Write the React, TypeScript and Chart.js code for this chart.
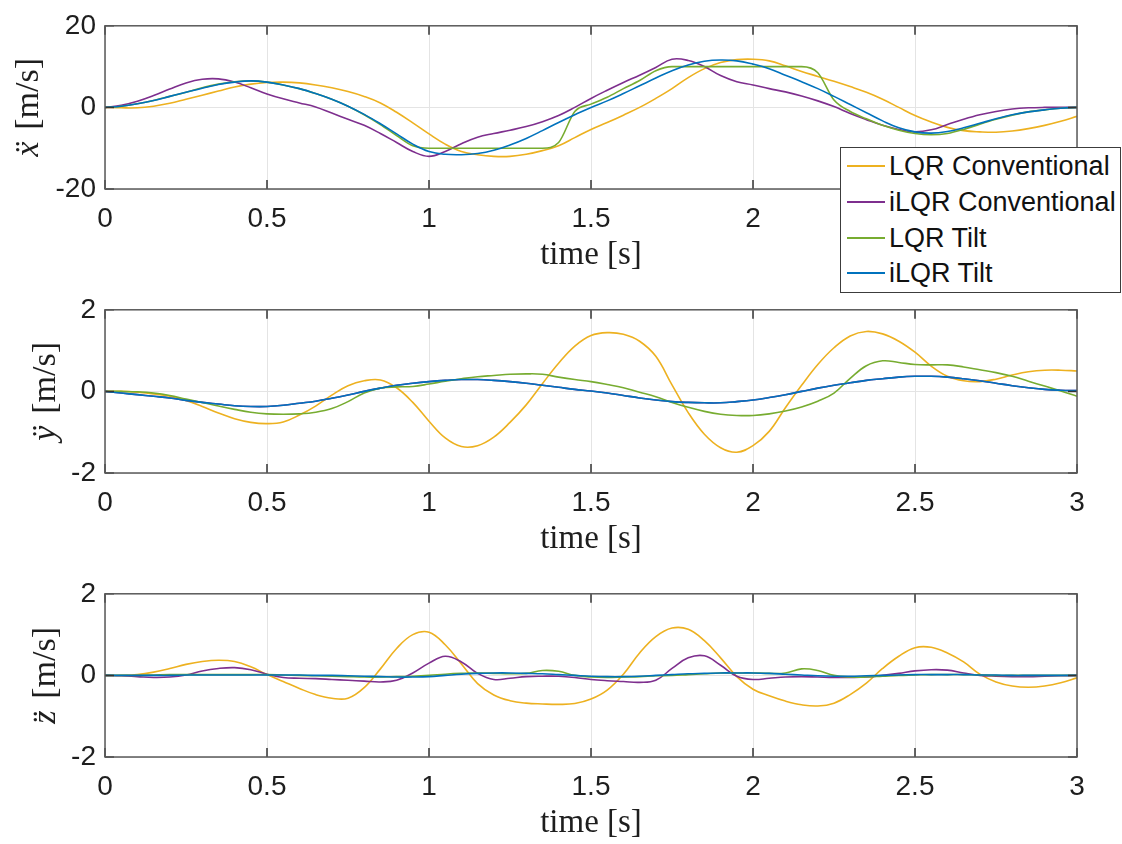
import React, { useEffect, useRef } from "react";
import { Chart, registerables } from "chart.js";

Chart.register(...registerables);

// Sample instants (s)
const time = [
  0, 0.05, 0.1, 0.15, 0.2, 0.25, 0.3, 0.35, 0.4, 0.45, 0.5,
  0.55, 0.6, 0.65, 0.7, 0.75, 0.8, 0.85, 0.9, 0.95, 1.0,
  1.05, 1.1, 1.15, 1.2, 1.25, 1.3, 1.35, 1.4, 1.45, 1.5,
  1.55, 1.6, 1.65, 1.7, 1.75, 1.8, 1.85, 1.9, 1.95, 2.0,
  2.05, 2.1, 2.15, 2.2, 2.25, 2.3, 2.35, 2.4, 2.45, 2.5,
  2.55, 2.6, 2.65, 2.7, 2.75, 2.8, 2.85, 2.9, 2.95, 3.0,
];

const seriesLabels = ["LQR Conventional", "iLQR Conventional", "LQR Tilt", "iLQR Tilt"];
const seriesColors = ["#EDB120", "#7E2F8E", "#77AC30", "#0072BD"];

// Tick labels
const timeTicks = [0, 0.5, 1, 1.5, 2, 2.5, 3];
const accXTicks = [-20, 0, 20];
const accYTicks = [-2, 0, 2];
const accZTicks = [-2, 0, 2];

// x acceleration
const accXLqrConv = [
  0, -0.1, -0.1, 0.3, 1.0, 2.0, 3.0, 4.0, 5.0, 5.7, 6.1,
  6.2, 6.0, 5.5, 4.8, 3.9, 2.7, 1.1, -1.2, -3.8, -6.5,
  -9.0, -10.8, -11.6, -12.0, -12.0, -11.5, -10.6, -9.4, -7.4, -5.4,
  -3.7, -1.9, 0.0, 2.2, 4.6, 7.3, 9.5, 11.0, 11.7, 11.8,
  11.4, 10.2, 8.8, 7.6, 6.4, 5.1, 3.7, 2.0, 0.0, -2.0,
  -3.6, -4.9, -5.7, -6.0, -6.1, -5.8, -5.2, -4.4, -3.4, -2.2,
];
const accXIlqrConv = [
  0, 0.5, 1.5, 2.9, 4.5, 6.0, 6.9, 7.0, 6.2, 4.8, 3.3,
  2.1, 1.1, 0.1, -1.4, -2.9, -4.4, -6.4, -8.6, -10.8, -12.0,
  -10.8, -8.9, -7.3, -6.4, -5.6, -4.7, -3.5, -2.0, 0.0, 2.2,
  4.2, 6.1, 7.9, 9.8, 11.8, 11.5, 10.0, 7.8, 6.3, 5.5,
  4.6, 3.8, 2.8, 1.6, 0.2, -1.5, -3.0, -4.4, -5.4, -6.0,
  -5.5, -4.2, -2.9, -1.8, -1.0, -0.4, -0.1, 0, 0, 0,
];
const accXLqrTilt = [
  0, 0.3, 0.9, 1.7, 2.7, 3.7, 4.8, 5.7, 6.3, 6.5, 6.2,
  5.5, 4.6, 3.4, 2.0, 0.3, -1.8, -4.2, -6.9, -9.4, -10,
  -10, -10, -10, -10, -10, -10, -10, -8.6, -1.0, 0.8,
  2.5, 4.6, 6.6, 9.0, 10, 10, 10, 10, 10, 10,
  10, 10, 10, 8.5, 1.8, -1.0, -2.8, -4.4, -5.6, -6.4,
  -6.7, -6.4, -5.4, -4.1, -2.9, -1.9, -1.1, -0.6, -0.2, 0,
];
const accXIlqrTilt = [
  0, 0.3, 0.9, 1.7, 2.7, 3.7, 4.7, 5.6, 6.2, 6.5, 6.2,
  5.5, 4.6, 3.4, 2.0, 0.3, -1.7, -4.0, -6.5, -9.0, -10.8,
  -11.5, -11.6, -11.3, -10.5, -9.2, -7.6, -5.7, -3.7, -1.8, 0.0,
  1.6, 3.4, 5.3, 7.2, 9.0, 10.4, 11.3, 11.6, 11.4, 10.6,
  9.5, 7.9, 6.3, 4.6, 2.7, 0.7, -1.3, -3.3, -5.0, -6.0,
  -6.3, -5.9, -5.0, -3.9, -2.8, -1.8, -1.1, -0.6, -0.2, 0,
];

// y acceleration
const accYLqrConv = [
  0, 0, -0.02, -0.06, -0.12, -0.22, -0.37, -0.53, -0.67, -0.76, -0.79,
  -0.75, -0.58, -0.36, -0.09, 0.14, 0.26, 0.28, 0.09, -0.27, -0.73,
  -1.14, -1.35, -1.33, -1.12, -0.76, -0.33, 0.19, 0.69, 1.11, 1.37,
  1.44, 1.4, 1.23, 0.86, 0.16, -0.52, -1.05, -1.38, -1.49, -1.33,
  -0.98, -0.4, 0.15, 0.66, 1.07, 1.36, 1.47, 1.41, 1.23, 0.96,
  0.62, 0.37, 0.26, 0.24, 0.3, 0.4, 0.48, 0.52, 0.52, 0.5,
];
const accYIlqrConv = [
  0, -0.04, -0.08, -0.12, -0.16, -0.22, -0.27, -0.31, -0.35, -0.37, -0.37,
  -0.34, -0.29, -0.24, -0.17, -0.09, 0.0, 0.08, 0.15, 0.2, 0.24,
  0.27, 0.29, 0.29, 0.27, 0.24, 0.2, 0.15, 0.1, 0.05, 0.01,
  -0.04, -0.1, -0.16, -0.21, -0.25, -0.27, -0.28, -0.28, -0.25, -0.21,
  -0.15, -0.08, 0.0, 0.08, 0.15, 0.21, 0.27, 0.31, 0.35, 0.37,
  0.37, 0.35, 0.31, 0.26, 0.2, 0.14, 0.09, 0.05, 0.03, 0.02,
];
const accYLqrTilt = [
  0, 0, -0.01, -0.04, -0.1, -0.19, -0.27, -0.36, -0.44, -0.51, -0.55,
  -0.56, -0.55, -0.51, -0.42, -0.25, -0.04, 0.08, 0.11, 0.12, 0.18,
  0.25, 0.31, 0.36, 0.39, 0.42, 0.43, 0.42, 0.35, 0.29, 0.24,
  0.17, 0.09, -0.02, -0.13, -0.27, -0.39, -0.49, -0.56, -0.59, -0.59,
  -0.55, -0.48, -0.38, -0.24, -0.04, 0.32, 0.63, 0.75, 0.71, 0.66,
  0.65, 0.65, 0.6, 0.53, 0.46, 0.37, 0.25, 0.13, 0.01, -0.12,
];
const accYIlqrTilt = [
  0, -0.04, -0.08, -0.12, -0.16, -0.22, -0.27, -0.31, -0.35, -0.37, -0.37,
  -0.34, -0.29, -0.24, -0.17, -0.09, 0.0, 0.08, 0.15, 0.2, 0.24,
  0.27, 0.29, 0.29, 0.27, 0.24, 0.2, 0.15, 0.1, 0.05, 0.01,
  -0.04, -0.1, -0.16, -0.21, -0.25, -0.27, -0.28, -0.28, -0.25, -0.21,
  -0.15, -0.08, 0.0, 0.08, 0.15, 0.21, 0.27, 0.31, 0.35, 0.37,
  0.37, 0.35, 0.31, 0.26, 0.2, 0.14, 0.09, 0.05, 0.03, 0.02,
];

// z acceleration
const accZLqrConv = [
  0, 0, 0.02, 0.08, 0.17, 0.27, 0.34, 0.37, 0.34, 0.21, 0.02,
  -0.15, -0.32, -0.47, -0.56, -0.56, -0.3, 0.16, 0.66, 1.0, 1.06,
  0.75, 0.28, -0.2, -0.48, -0.62, -0.68, -0.7, -0.71, -0.69, -0.58,
  -0.36, 0.03, 0.55, 0.95, 1.16, 1.13, 0.85, 0.43, -0.03, -0.34,
  -0.5, -0.63, -0.72, -0.75, -0.68, -0.47, -0.19, 0.17, 0.47, 0.68,
  0.69, 0.55, 0.33, 0.03, -0.16, -0.26, -0.29, -0.26, -0.18, -0.06,
];
const accZIlqrConv = [
  0, -0.01, -0.03, -0.05, -0.04, 0.01, 0.11, 0.17, 0.19, 0.14, 0.03,
  -0.05, -0.07, -0.08, -0.1, -0.12, -0.14, -0.16, -0.12, 0.06, 0.3,
  0.47, 0.33, 0.05, -0.1, -0.07, -0.03, -0.02, -0.02, -0.05, -0.1,
  -0.13, -0.15, -0.17, -0.12, 0.17, 0.43, 0.48, 0.25, -0.02, -0.1,
  -0.07, -0.04, -0.03, -0.04, -0.05, -0.05, -0.04, 0.0, 0.05, 0.11,
  0.14, 0.13, 0.06, 0.0, -0.02, -0.03, -0.03, -0.02, -0.01, 0,
];
const accZLqrTilt = [
  0, 0, 0, 0.01, 0.02, 0.02, 0.02, 0.02, 0.02, 0.02, 0.02,
  0.01, 0.0, -0.01, -0.02, -0.03, -0.04, -0.04, -0.03, -0.02, 0.0,
  0.03, 0.05, 0.06, 0.05, 0.04, 0.05, 0.12, 0.1, 0.0, -0.04,
  -0.05, -0.04, -0.03, -0.01, 0.0, 0.02, 0.04, 0.06, 0.06, 0.06,
  0.05, 0.06, 0.16, 0.12, 0.0, -0.04, -0.04, -0.02, 0.0, 0.01,
  0.02, 0.02, 0.02, 0.01, 0.0, 0, 0, 0, 0, 0,
];
const accZIlqrTilt = [
  0, 0, 0, 0, 0, 0.01, 0.01, 0.01, 0.01, 0.01, 0.01,
  0.01, 0.01, 0.0, 0.0, -0.01, -0.02, -0.03, -0.04, -0.04, -0.03,
  0.0, 0.03, 0.05, 0.06, 0.06, 0.05, 0.04, 0.02, 0.0, -0.02,
  -0.03, -0.03, -0.02, 0.0, 0.02, 0.04, 0.05, 0.06, 0.06, 0.06,
  0.05, 0.03, 0.01, -0.01, -0.02, -0.02, -0.01, 0.0, 0.01, 0.02,
  0.02, 0.02, 0.02, 0.01, 0.01, 0, 0, 0, 0, 0,
];

// Layout of each panel canvas
const PAGE_W = 1122;
const PLOT_LEFT = 105;
const PLOT_RIGHT = 1077;
const PLOT_TOP = 21;
const PLOT_H = 168;
const TICK_LEN = 9;

const SANS = '"Liberation Sans", Arial, Helvetica, sans-serif';
const SERIF = '"Liberation Serif", "DejaVu Serif", "Times New Roman", serif';
const TEXT_COLOR = "#1e1e1e";
const GRID_COLOR = "#e4e4e4";
const BOX_COLOR = "#5a5a5a";

const framePlugin = {
  id: "frame",
  afterDatasetsDraw(chart: any, _args: any, opts: any) {
    const { ctx, chartArea: a, scales } = chart;
    ctx.save();

    // inward tick marks on all four sides
    ctx.strokeStyle = "#333";
    ctx.lineWidth = 1.5;
    ctx.beginPath();
    for (const t of scales.x.ticks) {
      const px = scales.x.getPixelForValue(t.value);
      ctx.moveTo(px, a.bottom);
      ctx.lineTo(px, a.bottom - TICK_LEN);
      ctx.moveTo(px, a.top);
      ctx.lineTo(px, a.top + TICK_LEN);
    }
    for (const t of scales.y.ticks) {
      const py = scales.y.getPixelForValue(t.value);
      ctx.moveTo(a.left, py);
      ctx.lineTo(a.left + TICK_LEN, py);
      ctx.moveTo(a.right, py);
      ctx.lineTo(a.right - TICK_LEN, py);
    }
    ctx.stroke();

    // axes box
    ctx.strokeStyle = BOX_COLOR;
    ctx.lineWidth = 1.5;
    ctx.strokeRect(a.left, a.top, a.right - a.left, a.bottom - a.top);

    // x-axis title
    ctx.fillStyle = TEXT_COLOR;
    ctx.font = `33px ${SERIF}`;
    ctx.textAlign = "center";
    ctx.textBaseline = "middle";
    ctx.fillText("time [s]", (a.left + a.right) / 2, a.bottom + 66);

    // y-axis title: italic symbol followed by upright unit
    const size = 34;
    const symFont = `italic ${size}px ${SERIF}`;
    const unitFont = `${size}px ${SERIF}`;
    ctx.font = symFont;
    const wSym = ctx.measureText(opts.symbol).width;
    ctx.font = unitFont;
    const unit = "[m/s]";
    const wUnit = ctx.measureText(unit).width;
    const gap = size * 0.35;
    const total = wSym + gap + wUnit;
    ctx.translate(opts.labelX, (a.top + a.bottom) / 2);
    ctx.rotate(-Math.PI / 2);
    ctx.textAlign = "left";
    ctx.font = symFont;
    ctx.fillText(opts.symbol, -total / 2, 0);
    ctx.font = unitFont;
    ctx.fillText(unit, -total / 2 + wSym + gap, 0);

    ctx.restore();
  },
};

type PanelProps = {
  top: number;
  height: number;
  values: number[][];
  saturated: boolean[];
  yTicks: number[];
  symbol: string;
  labelX: number;
};

function Panel({ top, height, values, saturated, yTicks, symbol, labelX }: PanelProps) {
  const ref = useRef<HTMLCanvasElement>(null);

  useEffect(() => {
    const canvas = ref.current;
    if (!canvas) return;
    const n = values.length;
    const chart = new Chart(canvas, {
      type: "line",
      data: {
        datasets: values.map((v, i) => ({
          label: seriesLabels[i],
          data: time.map((t, k) => ({ x: t, y: v[k] })),
          borderColor: seriesColors[i],
          backgroundColor: seriesColors[i],
          borderWidth: 1.6,
          pointRadius: 0,
          fill: false,
          // saturated traces keep their flat segments; the rest are smooth splines
          ...(saturated[i]
            ? { cubicInterpolationMode: "monotone" as const }
            : { tension: 0.4 }),
          // later series are drawn on top
          order: n - i,
        })),
      },
      options: {
        animation: false,
        responsive: false,
        devicePixelRatio: 1,
        events: [],
        layout: {
          padding: { top: PLOT_TOP, right: PAGE_W - PLOT_RIGHT, left: 0, bottom: 0 },
        },
        plugins: {
          legend: { display: false },
          tooltip: { enabled: false },
          frame: { symbol, labelX },
        } as any,
        scales: {
          x: {
            type: "linear",
            min: timeTicks[0],
            max: timeTicks[timeTicks.length - 1],
            afterBuildTicks: (s: any) => {
              s.ticks = timeTicks.map((v) => ({ value: v }));
            },
            afterFit: (s: any) => {
              s.height = height - PLOT_TOP - PLOT_H;
            },
            grid: { color: GRID_COLOR, lineWidth: 1, drawTicks: false },
            border: { display: false },
            ticks: {
              padding: 13,
              maxRotation: 0,
              autoSkip: false,
              color: TEXT_COLOR,
              font: { family: SANS, size: 28 },
              callback: (v: any) => String(v),
            },
          },
          y: {
            type: "linear",
            min: yTicks[0],
            max: yTicks[yTicks.length - 1],
            afterBuildTicks: (s: any) => {
              s.ticks = yTicks.map((v) => ({ value: v }));
            },
            afterFit: (s: any) => {
              s.width = PLOT_LEFT;
            },
            grid: { color: GRID_COLOR, lineWidth: 1, drawTicks: false },
            border: { display: false },
            ticks: {
              padding: 9,
              color: TEXT_COLOR,
              font: { family: SANS, size: 28 },
              callback: (v: any) => String(v),
            },
          },
        },
      },
      plugins: [framePlugin],
    });
    return () => chart.destroy();
  }, [height, values, saturated, yTicks, symbol, labelX]);

  return (
    <canvas
      ref={ref}
      width={PAGE_W}
      height={height}
      style={{ position: "absolute", left: 0, top, width: PAGE_W, height }}
    />
  );
}

const legendRows = [166.7, 202.7, 238.3, 273.3];

function Legend() {
  const boxLeft = 840;
  const boxTop = 147;
  return (
    <div
      style={{
        position: "absolute",
        left: boxLeft,
        top: boxTop,
        width: 281,
        height: 146,
        boxSizing: "border-box",
        border: "1.5px solid #3c3c3c",
        background: "#fff",
        zIndex: 2,
      }}
    >
      {seriesLabels.map((name, i) => (
        <React.Fragment key={name}>
          <div
            style={{
              position: "absolute",
              left: 6,
              width: 38,
              top: legendRows[i] - boxTop - 2.3,
              height: 1.6,
              background: seriesColors[i],
            }}
          />
          <div
            style={{
              position: "absolute",
              left: 48,
              top: legendRows[i] - boxTop - 1.5,
              transform: "translateY(-50%)",
              font: `27px ${SANS}`,
              lineHeight: "1",
              color: "#111",
              whiteSpace: "nowrap",
            }}
          >
            {name}
          </div>
        </React.Fragment>
      ))}
    </div>
  );
}

const panelX = [accXLqrConv, accXIlqrConv, accXLqrTilt, accXIlqrTilt];
const panelY = [accYLqrConv, accYIlqrConv, accYLqrTilt, accYIlqrTilt];
const panelZ = [accZLqrConv, accZIlqrConv, accZLqrTilt, accZIlqrTilt];

const satX = [false, false, true, false];
const satNone = [false, false, false, false];

export default function App() {
  return (
    <div
      style={{
        position: "absolute",
        left: 0,
        top: 0,
        width: PAGE_W,
        height: 844,
        background: "#fff",
        overflow: "hidden",
      }}
    >
      <Panel top={0} height={284} values={panelX} saturated={satX} yTicks={accXTicks} symbol={"\u1E8D"} labelX={29} />
      <Panel top={284} height={284} values={panelY} saturated={satNone} yTicks={accYTicks} symbol={"\u00FF"} labelX={46} />
      <Panel top={568} height={276} values={panelZ} saturated={satNone} yTicks={accZTicks} symbol={"z\u0308"} labelX={46} />
      <Legend />
    </div>
  );
}
